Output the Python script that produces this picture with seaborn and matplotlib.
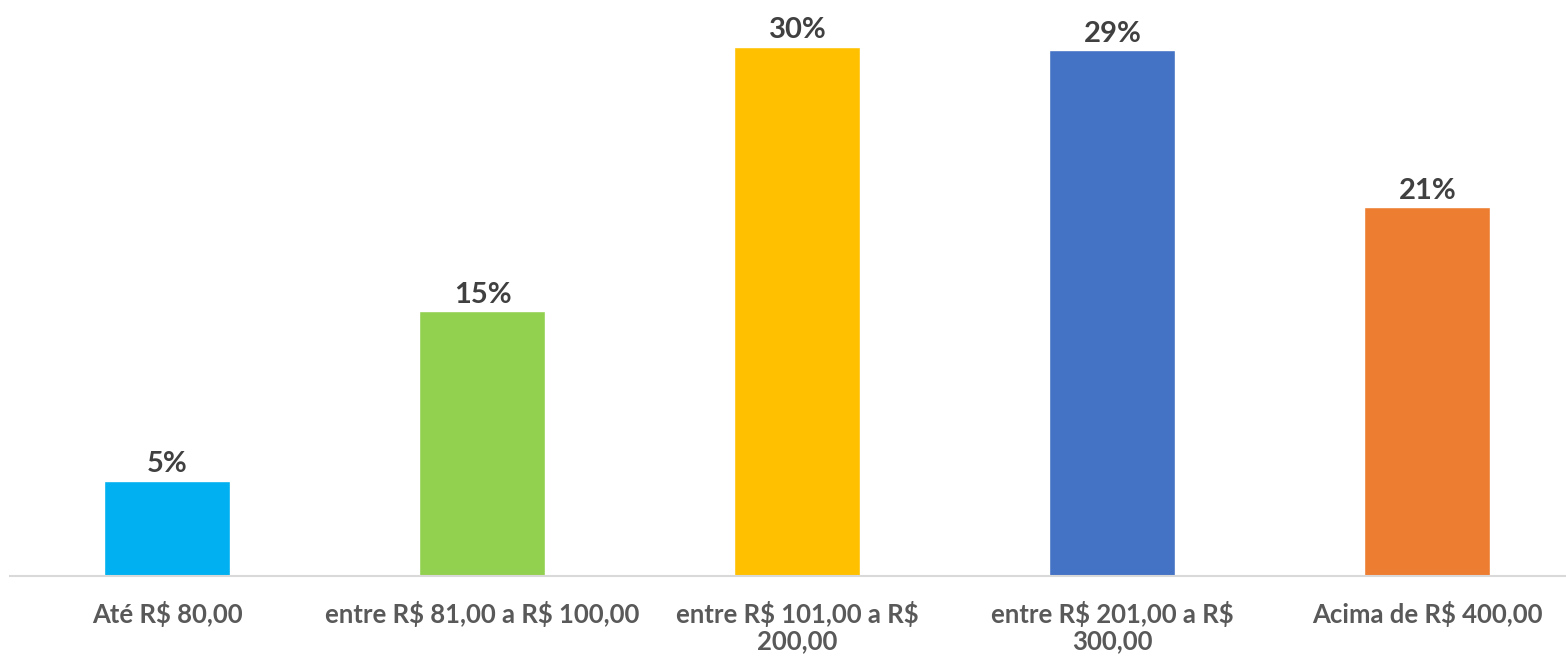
import matplotlib
matplotlib.use("Agg")
import matplotlib.pyplot as plt
import seaborn as sns
import pandas as pd

# values, labels as printed on the chart
categories = ["Até R$ 80,00", "entre R$ 81,00 a R$ 100,00", "entre R$ 101,00 a R$\n200,00",
              "entre R$ 201,00 a R$\n300,00", "Acima de R$ 400,00"]
values = [5.4, 15.0, 30.0, 29.8, 20.9]
value_labels = ["5%", "15%", "30%", "29%", "21%"]
colors = ["#00B0F0", "#92D050", "#FFC000", "#4472C4", "#ED7D31"]

df = pd.DataFrame({"faixa": categories, "pct": values})

sns.set_style("white")
plt.rcParams["font.family"] = ["Lato", "DejaVu Sans"]
plt.rcParams["text.parse_math"] = False

fig = plt.figure(figsize=(15.66, 6.58), dpi=100)
ax = fig.add_axes([10 / 1566, 1 - 576 / 658, 1 - 10 / 1566, 576 / 658])

sns.barplot(data=df, x="faixa", y="pct", hue="faixa", palette=colors, legend=False,
            width=0.40, saturation=1, ax=ax)

for i, (v, lab) in enumerate(zip(values, value_labels)):
    ax.text(i, v + 0.2, lab, ha="center", va="bottom", fontsize=21, fontweight="bold",
            color="#404040")

ax.set_ylim(0, 32.65)
ax.set_xlim(-0.5, 4.44)
ax.set_xlabel("")
ax.set_ylabel("")
ax.set_yticks([])
for s in ["top", "right", "left"]:
    ax.spines[s].set_visible(False)
ax.spines["bottom"].set_color("#D9D9D9")
ax.spines["bottom"].set_linewidth(1.5)
ax.set_xticks(range(len(categories)))
ax.set_xticklabels(categories, fontsize=18.5, fontweight="bold", color="#595959",
                   linespacing=1.1, va="top")
ax.tick_params(axis="x", length=0, pad=18)

fig.savefig("out.png", dpi=100)
